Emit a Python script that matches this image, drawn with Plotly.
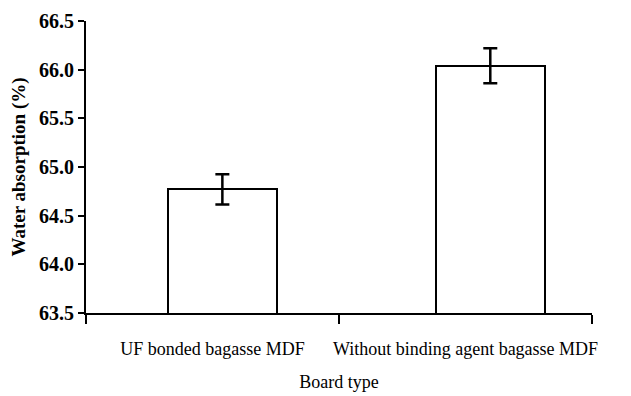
import plotly.graph_objects as go

categories = ["UF bonded bagasse MDF", "Without binding agent bagasse MDF"]
values = [64.77, 66.04]
errors = [0.155, 0.18]
y_ticks = [63.5, 64.0, 64.5, 65.0, 65.5, 66.0, 66.5]

fig = go.Figure()
fig.add_trace(go.Bar(
    x=categories, y=values,
    width=0.43,
    offset=[-0.176, -0.117],
    marker=dict(color="white", line=dict(color="black", width=2)),
    error_y=dict(type="data", array=errors, visible=True, color="black", thickness=2.5, width=7),
))

font = "Liberation Serif, Times New Roman, serif"
fig.update_layout(
    width=631, height=396,
    margin=dict(l=78, r=47, t=13, b=91),
    paper_bgcolor="white", plot_bgcolor="white",
    showlegend=False,
    font=dict(family=font, color="black", size=18),
    bargap=0,
)
fig.update_yaxes(
    range=[63.5, 66.5], tickvals=y_ticks, ticktext=[f"<b>{v:.1f}</b>" for v in y_ticks],
    showline=True, linecolor="black", linewidth=2,
    ticks="outside", ticklen=6, tickwidth=2, tickcolor="black",
    showgrid=False, zeroline=False, automargin=False,
    title=dict(text="<b>Water absorption (%)</b>", font=dict(size=19), standoff=10),
    tickfont=dict(size=20),
)
fig.update_xaxes(
    showline=True, linecolor="black", linewidth=2,
    ticks="outside", ticklen=9, tickwidth=2, tickcolor="black",
    tickson="boundaries", automargin=False, tickangle=0,
    ticklabelstandoff=18,
    showgrid=False,
    title=dict(text="Board type", font=dict(size=18), standoff=18),
    tickfont=dict(size=18),
)
fig.write_html("out.html")
